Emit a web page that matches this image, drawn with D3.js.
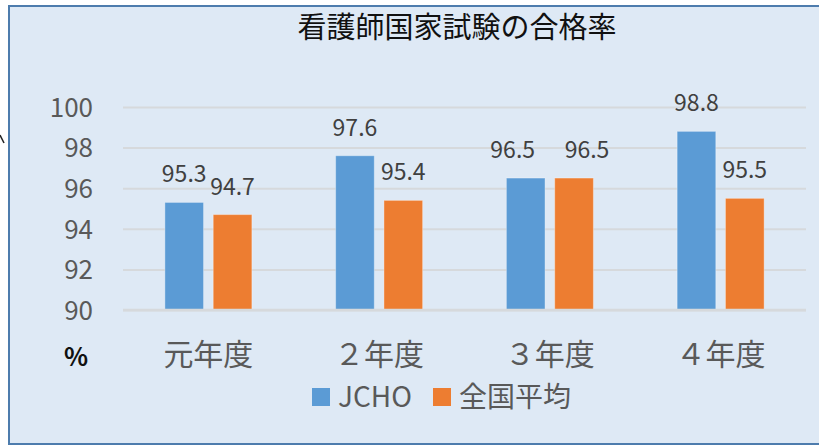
<!DOCTYPE html>
<html>
<head>
<meta charset="utf-8">
<script src="https://cdn.jsdelivr.net/npm/d3@7"></script>
<style>
  body { margin: 0; background: #fff; }
  text { font-family: "Noto Sans CJK JP", "Noto Sans", sans-serif; }
</style>
</head>
<body>
<div id="chart"></div>
<script>
var years = ["元年度", "２年度", "３年度", "４年度"];
var jcho = [95.3, 97.6, 96.5, 98.8];
var national = [94.7, 95.4, 96.5, 95.5];
var seriesNames = ["JCHO", "全国平均"];
var colors = ["#5b9bd5", "#ed7d31"];
var yTicks = [90, 92, 94, 96, 98, 100];

var width = 819, height = 446;

var svg = d3.select("#chart").append("svg")
  .attr("width", width)
  .attr("height", height);

// stray mark at the left edge
svg.append("path")
  .attr("d", "M0,135 L4,143")
  .attr("stroke", "#222")
  .attr("stroke-width", 1.5);

// frame
svg.append("rect")
  .attr("x", 9).attr("y", 6)
  .attr("width", 820).attr("height", 438)
  .attr("fill", "#dee9f5")
  .attr("stroke", "#4d7cad")
  .attr("stroke-width", 2);

svg.append("text")
  .attr("x", 457).attr("y", 38)
  .attr("text-anchor", "middle")
  .attr("font-size", 29)
  .attr("fill", "#111")
  .text("看護師国家試験の合格率");

var xScale = d3.scaleBand()
  .domain(years)
  .range([123, 806]);

var inner = d3.scaleBand()
  .domain(seriesNames)
  .range([-43.5, 43.5])
  .paddingInner(0.2);

var yScale = d3.scaleLinear()
  .domain([90, 100])
  .range([310, 107]);

// grid
var yAxis = d3.axisLeft(yScale)
  .tickValues(yTicks)
  .tickSize(-(806 - 123))
  .tickPadding(30);

var gy = svg.append("g")
  .attr("transform", "translate(123,0)")
  .call(yAxis);
gy.select(".domain").remove();
gy.selectAll(".tick line").attr("stroke", "#d6d9dc").attr("stroke-width", 2);
gy.selectAll(".tick text")
  .attr("font-size", 26)
  .attr("fill", "#595959")
  .attr("dy", "0.36em");

var rows = years.map((y, i) => ({ year: y, values: [jcho[i], national[i]] }));

var groups = svg.selectAll(".grp")
  .data(rows)
  .enter()
  .append("g")
  .attr("transform", d => `translate(${xScale(d.year) + xScale.bandwidth() / 2},0)`);

groups.selectAll("rect")
  .data(d => d.values.map((v, j) => ({ v: v, s: seriesNames[j], c: colors[j] })))
  .enter()
  .append("rect")
  .attr("x", d => inner(d.s))
  .attr("y", d => yScale(d.v))
  .attr("width", inner.bandwidth())
  .attr("height", d => yScale(90) - yScale(d.v))
  .attr("fill", d => d.c)
  .attr("stroke", "#ffffff")
  .attr("stroke-opacity", 0.35)
  .attr("stroke-width", 1);

// labels at the same height get pushed apart, like Excel does
groups.selectAll(".lbl")
  .data(d => d.values.map((v, j) => ({
    v: v, s: seriesNames[j],
    push: Math.abs(d.values[0] - d.values[1]) < 0.3 ? (j === 0 ? -13 : 13) : 0
  })))
  .enter()
  .append("text")
  .attr("x", d => inner(d.s) + inner.bandwidth() / 2 + d.push)
  .attr("y", d => yScale(d.v) - 20)
  .attr("text-anchor", "middle")
  .attr("font-size", 23)
  .attr("fill", "#404040")
  .text(d => d.v.toFixed(1));

// baseline
svg.append("line")
  .attr("x1", 123).attr("x2", 806)
  .attr("y1", yScale(90)).attr("y2", yScale(90))
  .attr("stroke", "#d6d9dc").attr("stroke-width", 2.5);

// x labels
var xAxis = d3.axisBottom(xScale).tickSize(0).tickPadding(0);
var gx = svg.append("g")
  .attr("transform", "translate(0,310)")
  .call(xAxis);
gx.select(".domain").remove();
gx.selectAll(".tick text")
  .attr("font-size", 30)
  .attr("fill", "#595959")
  .attr("dy", null)
  .attr("y", 55);

svg.append("text")
  .attr("x", 76).attr("y", 366)
  .attr("text-anchor", "middle")
  .attr("font-size", 25)
  .attr("font-weight", "bold")
  .attr("fill", "#111")
  .text("%");

// legend
var legendX = [312, 433];
var lg = svg.selectAll(".leg")
  .data(seriesNames)
  .enter()
  .append("g")
  .attr("transform", (d, i) => `translate(${legendX[i]},388)`);
lg.append("rect")
  .attr("width", 18).attr("height", 18)
  .attr("fill", (d, i) => colors[i]);
lg.append("text")
  .attr("x", 26).attr("y", 19)
  .attr("font-size", 28)
  .attr("fill", "#595959")
  .text(d => d);
</script>
</body>
</html>
